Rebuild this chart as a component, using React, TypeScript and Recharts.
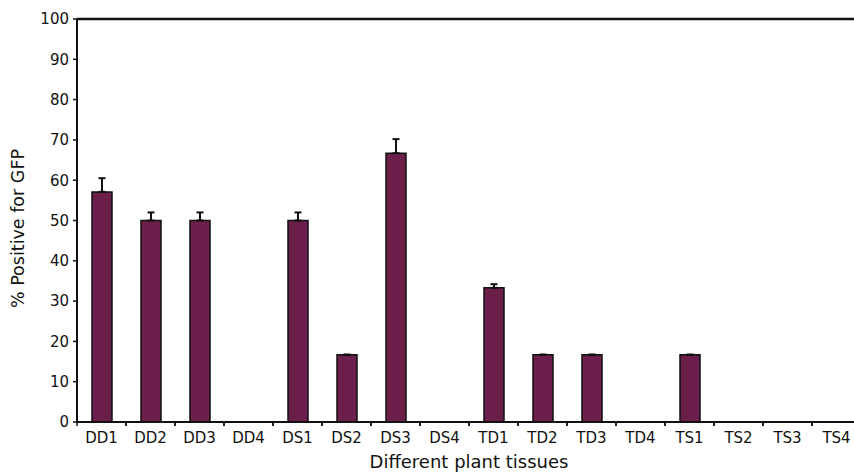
import React from 'react';
import { BarChart, Bar, XAxis, YAxis, ErrorBar, ReferenceLine } from 'recharts';

const categories = ['DD1', 'DD2', 'DD3', 'DD4', 'DS1', 'DS2', 'DS3', 'DS4', 'TD1', 'TD2', 'TD3', 'TD4', 'TS1', 'TS2', 'TS3', 'TS4'];
const values = [57.1, 50, 50, 0, 50, 16.7, 66.7, 0, 33.3, 16.7, 16.7, 0, 16.7, 0, 0, 0];
const errors = [3.4, 2, 2, 0, 2, 0, 3.5, 0, 0.9, 0, 0, 0, 0, 0, 0, 0];
const yTicks = [0, 10, 20, 30, 40, 50, 60, 70, 80, 90, 100];

const data = categories.map((c, i) => ({ name: c, value: values[i], err: [0, errors[i]] }));

const FONT = '"DejaVu Sans", sans-serif';

const XTick = (props: any) => {
  const { x, y, payload } = props;
  const off = payload && payload.offset ? payload.offset : 0;
  const bx = x - off;
  const ex = x + off;
  return (
    <g>
      <line x1={bx} y1={y} x2={bx} y2={y + 4} stroke="#111" strokeWidth={1.5} />
      <line x1={ex} y1={y} x2={ex} y2={y + 4} stroke="#111" strokeWidth={1.5} />
      <text x={x} y={y + 10} dy="0.71em" textAnchor="middle" fontFamily={FONT} fontSize={15} fill="#111">
        {payload.value}
      </text>
    </g>
  );
};

const YLabel = (props: any) => {
  const vb = props.viewBox || {};
  const cx = 18;
  const cy = vb.y + vb.height / 2 + 8;
  return (
    <text x={cx} y={cy} transform={`rotate(-90, ${cx}, ${cy})`} textAnchor="middle" dominantBaseline="central" fontFamily={FONT} fontSize={17.5} fill="#111">
      % Positive for GFP
    </text>
  );
};

const XLabel = (props: any) => {
  const vb = props.viewBox || {};
  const cx = vb.x + vb.width / 2;
  const cy = vb.y + 46;
  return (
    <text x={cx} y={cy} textAnchor="middle" fontFamily={FONT} fontSize={18} fill="#111">
      Different plant tissues
    </text>
  );
};

export default function App() {
  return (
    <div style={{ position: 'fixed', top: 0, left: 0, width: 854, height: 473, overflow: 'hidden', background: '#fff' }}>
      <BarChart width={880} height={473} data={data} margin={{ top: 19, right: 19, bottom: 0, left: 0 }}>
        <XAxis
          dataKey="name"
          height={51}
          interval={0}
          tickLine={false}
          tickSize={0}
          tickMargin={0}
          axisLine={{ stroke: '#111', strokeWidth: 2 }}
          tick={<XTick />}
          label={<XLabel />}
        />
        <YAxis
          width={77}
          domain={[0, 100]}
          ticks={yTicks}
          interval={0}
          tickSize={4}
          tickMargin={4}
          tickLine={{ stroke: '#111', strokeWidth: 1.5 }}
          axisLine={{ stroke: '#111', strokeWidth: 2 }}
          tick={{ fontFamily: FONT, fontSize: 15, fill: '#111' }}
          label={<YLabel />}
        />
        <ReferenceLine y={100} stroke="#111" strokeWidth={2.5} ifOverflow="visible" />
        <Bar dataKey="value" barSize={20} fill="#6d1f4b" stroke="#111" strokeWidth={1.5} isAnimationActive={false}>
          <ErrorBar dataKey="err" width={3.5} stroke="#111" strokeWidth={2} direction="y" />
        </Bar>
      </BarChart>
    </div>
  );
}
